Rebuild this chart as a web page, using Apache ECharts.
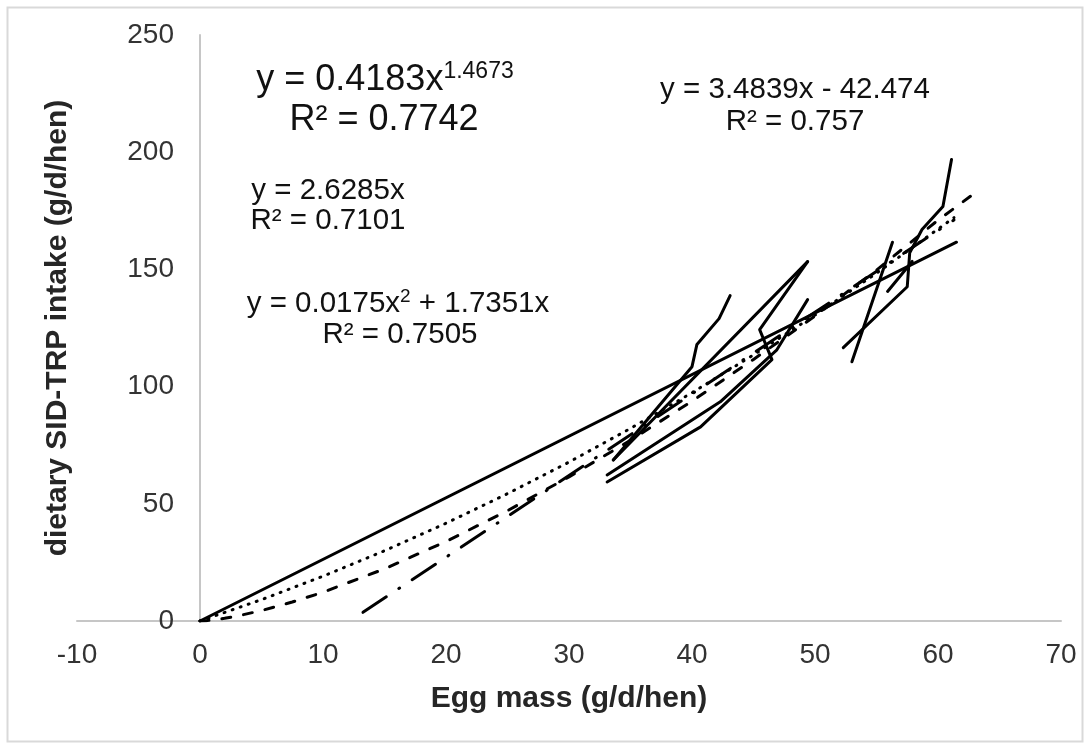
<!DOCTYPE html>
<html><head><meta charset="utf-8">
<script src="https://cdn.jsdelivr.net/npm/echarts@6/dist/echarts.min.js"></script>
<style>html,body{margin:0;padding:0;background:#fff}#c{width:1086px;height:745px}</style>
</head><body><div id="c"></div>
<script>
// Axis tick labels
const xTickLabels = [-10, 0, 10, 20, 30, 40, 50, 60, 70];
const yTickLabels = [0, 50, 100, 150, 200, 250];

// Observed study responses [egg mass, SID-TRP intake]
const study1 = [[33.6, 68.7], [49.4, 153.3]];
const study2 = [[33.6, 68.7], [40.0, 108.5], [40.4, 118.0], [42.2, 129.0], [43.1, 138.8]];
const study3 = [[49.4, 153.3], [45.5, 124.3], [46.5, 111.5], [40.7, 82.8], [33.1, 59.3]];
const study4 = [[33.1, 62.3], [42.3, 93.5], [46.9, 115.7], [49.4, 137.1]];
const study5 = [[52.3, 116.6], [57.5, 142.6], [57.7, 157.1], [58.7, 167.0], [60.4, 176.8], [61.1, 196.9]];
const study6 = [[53.0, 110.6], [56.3, 161.6]];
const study7 = [[55.9, 140.6], [57.9, 153.4]];

// Trend lines
const linearOriginFit = [[0, 0], [61.5, 161.6]];
const quadraticFit = [[0, 0], [5, 9.11], [10, 19.10], [15, 29.96], [20, 41.70], [25, 54.32], [30, 67.80], [35, 82.17], [40, 97.40], [45, 113.52], [50, 130.51], [55, 148.37], [61.3, 172.1]];
const powerFit = [[0, 0], [0.5, 0.15], [1, 0.42], [2, 1.16], [3, 2.10], [5, 4.44], [7.5, 8.1], [10, 12.27], [15, 22.25], [20, 33.92], [25, 47.06], [30, 61.49], [35, 77.10], [40, 93.79], [45, 111.6], [50, 130.1], [55, 149.7], [60, 171.0], [62.8, 181.8]];
const linearFit = [[13.25, 3.7], [61.3, 171.1]];

const FONT = '"Liberation Sans", Arial, sans-serif';
const EQ = 29.5;

function lineSeries(name, data, dash) {
  return {
    name: name, type: 'line', data: data, symbol: 'none', silent: true,
    lineStyle: { color: '#000', width: 3, type: dash || 'solid', cap: 'round', join: 'round' }
  };
}
function eqText(x, y, text, size) {
  return { type: 'text', x: x, y: y, silent: true, style: {
    text: text, align: 'center', verticalAlign: 'middle', fontSize: size, fontFamily: FONT, fill: '#111' } };
}

const chart = echarts.init(document.getElementById('c'), null, { renderer: 'canvas' });
chart.setOption({
  animation: false,
  backgroundColor: '#fff',
  grid: { left: 77, right: 25, top: 35, bottom: 124, containLabel: false, outerBoundsMode: 'none' },
  xAxis: {
    type: 'value',
    min: xTickLabels[0], max: xTickLabels[xTickLabels.length - 1],
    interval: xTickLabels[1] - xTickLabels[0],
    axisLine: { show: true, onZero: true, lineStyle: { color: '#c6c6c6', width: 2 } },
    axisTick: { show: false },
    splitLine: { show: false },
    axisLabel: { color: '#333', fontSize: 28, fontFamily: FONT, margin: 20 },
    name: 'Egg mass (g/d/hen)', nameLocation: 'middle', nameGap: 63,
    nameTextStyle: { color: '#262626', fontSize: 30, fontWeight: 'bold', fontFamily: FONT }
  },
  yAxis: {
    type: 'value',
    min: yTickLabels[0], max: yTickLabels[yTickLabels.length - 1],
    interval: yTickLabels[1] - yTickLabels[0],
    offset: -123,
    axisLine: { show: true, onZero: false, lineStyle: { color: '#c6c6c6', width: 2 } },
    axisTick: { show: false },
    splitLine: { show: false },
    axisLabel: { color: '#333', fontSize: 28, fontFamily: FONT, margin: 26 },
    name: 'dietary SID-TRP intake (g/d/hen)', nameLocation: 'middle', nameGap: 127,
    nameTextStyle: { color: '#262626', fontSize: 30, fontWeight: 'bold', fontFamily: FONT }
  },
  series: [
    lineSeries('study1', study1),
    lineSeries('study2', study2),
    lineSeries('study3', study3),
    lineSeries('study4', study4),
    lineSeries('study5', study5),
    lineSeries('study6', study6),
    lineSeries('study7', study7),
    lineSeries('linear (origin)', linearOriginFit),
    lineSeries('quadratic', quadraticFit, [1, 7.5]),
    lineSeries('power', powerFit, [9, 13]),
    lineSeries('linear', linearFit, [28, 15, 1, 15])
  ],
  graphic: [
    { type: 'rect', left: 5, top: 5, silent: true, shape: { width: 1075, height: 734 },
      style: { fill: 'none', stroke: '#d9d9d9', lineWidth: 2 } },
    { type: 'text', x: 385, y: 80, silent: true, style: {
        text: '{a|y = 0.4183x}{s|1.4673}', align: 'center', verticalAlign: 'middle',
        rich: { a: { fontSize: 36, fontFamily: FONT, fill: '#111', lineHeight: 40 },
                s: { fontSize: 23, fontFamily: FONT, fill: '#111', verticalAlign: 'top', lineHeight: 24 } } } },
    eqText(384, 120, 'R² = 0.7742', 36),
    eqText(328, 191, 'y = 2.6285x', EQ),
    eqText(328, 221, 'R² = 0.7101', EQ),
    { type: 'text', x: 398, y: 304, silent: true, style: {
        text: '{a|y = 0.0175x}{s|2}{a| + 1.7351x}', align: 'center', verticalAlign: 'middle',
        rich: { a: { fontSize: EQ, fontFamily: FONT, fill: '#111', lineHeight: 33 },
                s: { fontSize: 19, fontFamily: FONT, fill: '#111', verticalAlign: 'top', lineHeight: 21 } } } },
    eqText(400, 335, 'R² = 0.7505', EQ),
    eqText(795, 90, 'y = 3.4839x - 42.474', EQ),
    eqText(795, 122, 'R² = 0.757', EQ)
  ]
});
</script>
</body></html>
